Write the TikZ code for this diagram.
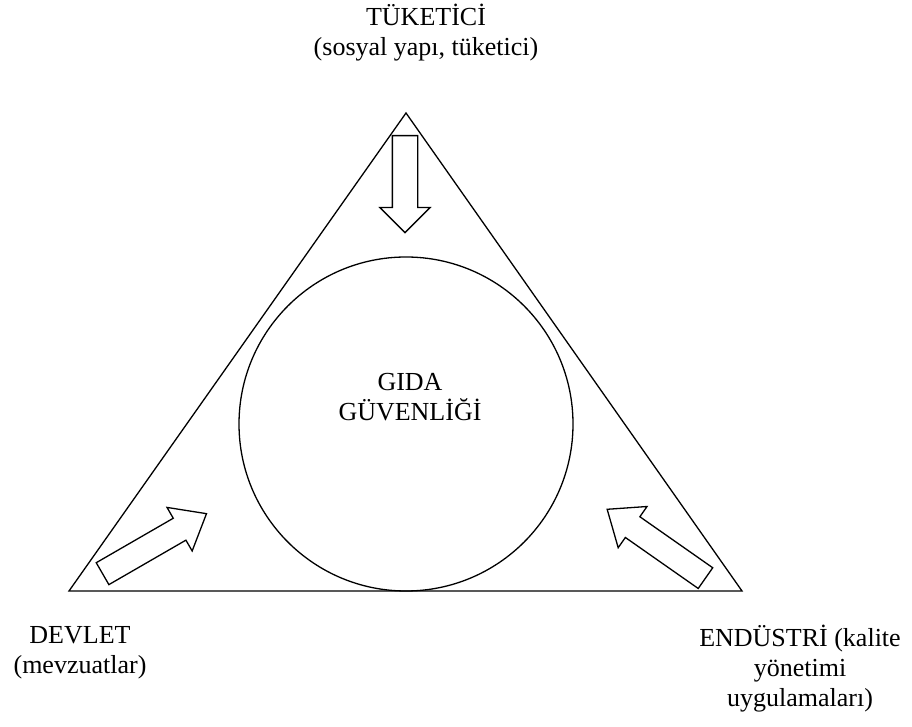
\documentclass[tikz,border=0pt]{standalone}
\usepackage{fontspec}
\setmainfont{Liberation Serif}
\usetikzlibrary{shapes.arrows,positioning}

\tikzset{
  blockarrow/.style={single arrow, draw, line width=1.3pt, anchor=tail,
    minimum height=97pt, inner sep=12pt, single arrow head extend=12.5pt},
  diagarrow/.style={blockarrow, minimum height=120pt, single arrow tip angle=78},
  lbl/.style={align=center, font=\fontsize{26}{30}\selectfont}
}

\begin{document}
\begin{tikzpicture}[x=1pt,y=1pt]
  \useasboundingbox (0,0) rectangle (912,727);

  % triangle
  \coordinate (apex) at (406,614);
  \coordinate (lb) at (69,136);
  \coordinate (rb) at (742,136);
  \draw[line width=1.3pt] (apex) -- (lb) -- (rb) -- cycle;

  % circle
  \node[circle, draw, line width=1.3pt, minimum size=334pt, inner sep=0pt] (gida) at (406,303) {};
  \node[lbl] (gidatxt) at (410,330) {GIDA\\GÜVENLİĞİ};

  % arrows
  \node[blockarrow, rotate=-90] (arrT) at (405,592) {};
  \node[diagarrow, rotate=30] (arrL) at (102,153) {};
  \node[diagarrow, rotate=145] (arrR) at (706,148.5) {};

  % labels
  \node[lbl] (tuketici) at (426,694) {TÜKETİCİ\\(sosyal yapı, tüketici)};
  \node[lbl] (devlet) at (80,74) {DEVLET\\(mevzuatlar)};
  \node[lbl] (endustri) at (800,58) {ENDÜSTRİ (kalite\\yönetimi\\uygulamaları)};
\end{tikzpicture}
\end{document}
